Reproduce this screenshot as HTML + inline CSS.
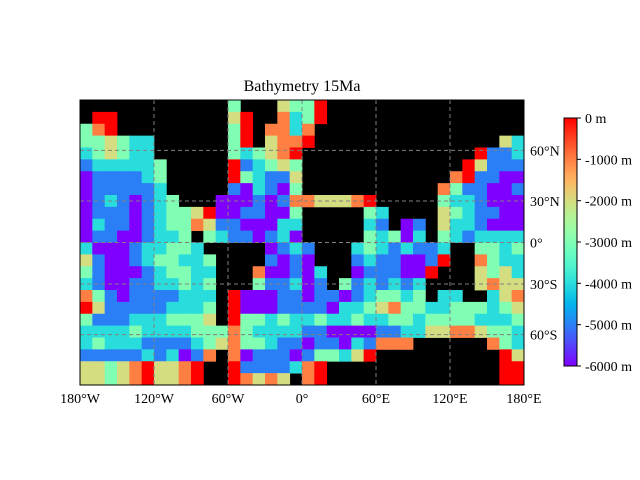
<!DOCTYPE html>
<html><head><meta charset="utf-8"><style>
body{margin:0;background:#fff;}
svg{display:block;font-family:"Liberation Serif",serif;}
</style></head><body>
<svg id="chart" width="640" height="480" viewBox="0 0 640 480" xmlns="http://www.w3.org/2000/svg">
<defs>
<linearGradient id="cbgrad" x1="0" y1="1" x2="0" y2="0"></linearGradient>
</defs>
<text x="302" y="91" font-size="16" text-anchor="middle">Bathymetry 15Ma</text>
<rect x="80" y="100" width="444" height="285" fill="#000"/>
<g id="cells"></g>
<g id="grid"></g>
<rect x="80" y="100" width="444" height="285" fill="none" stroke="#000" stroke-width="1"/>
<g id="xlabels"></g>
<g id="ylabels"></g>
<rect x="564" y="118" width="13" height="248" fill="url(#cbgrad)" stroke="#000" stroke-width="1"/>
<g id="cblabels"></g>
</svg>
<script>
// depth grid: each char = depth in km ('.' = land); columns 10° from 180°W
const depthRows = [
"............3...2330................",
".00.........20..1430................",
"310.........30.1141.................",
"332344......30.2110...............24",
"432344......343210..............0554",
"5444443.....054323.............02555",
"6555543.....034552............105566",
"6555554.....564563...........1355665",
"65456543...6665651122210.....3445666",
"655565433206655663.....34....2345566",
"645565433125566644.....45.65.2445666",
"655665443.34556546.....34364.3454444",
"4666544334.....6545...43454554..3343",
"25665433443....5656...54556650..1344",
"35666543344...166564..6555660...2324",
"45665544343...355465.3545454....2122",
"13565555444.0666556556543343.44..421",
"02555554443.066655556443213344333432",
"35554443332.033434434434433433334443",
"444434444333134444556666554422112334",
"434445555432133455655645111......134",
"55555454651.165556533420..........02",
"2232102210..05555410..............00",
"2232102210..01212.10..............00"
];
const lonTicks = [-180,-120,-60,0,60,120,180];
const lonLabels = ["180°W","120°W","60°W","0°","60°E","120°E","180°E"];
const latTicks = [60,30,0,-30,-60];
const latLabels = ["60°N","30°N","0°","30°S","60°S"];
const cbTicks = [0,-1000,-2000,-3000,-4000,-5000,-6000];
const cbLabels = ["0 m","-1000 m","-2000 m","-3000 m","-4000 m","-5000 m","-6000 m"];

const NS="http://www.w3.org/2000/svg";
const X0=80,X1=524,Y0=100,Y1=385,VMIN=-6000,VMAX=0;
const xScale = lon => X0 + (lon+180)/360*(X1-X0);
const yLat = lat => 242.5 - 77*1.25*Math.log(Math.tan(Math.PI/4+0.4*lat*Math.PI/180));
const cbY = v => 366 - (v-VMIN)/(VMAX-VMIN)*248;
function rainbow(v){
  const x=Math.max(0,Math.min(1,(v-VMIN)/(VMAX-VMIN)));
  const r=Math.min(1,Math.abs(2*x-0.5)), g=Math.sin(Math.PI*x), b=Math.cos(Math.PI*x/2);
  return `rgb(${Math.round(r*255)},${Math.round(g*255)},${Math.round(b*255)})`;
}
const svg=document.getElementById('chart');
const cells=document.getElementById('cells');
const nR=depthRows.length, nC=depthRows[0].length, rowH=(Y1-Y0)/nR;
for(let r=0;r<nR;r++){
  for(let c=0;c<nC;c++){
    const ch=depthRows[r][c]; if(ch==='.')continue;
    const v=-1000*parseInt(ch,10);
    const xa=xScale(-180+c*360/nC), xb=xScale(-180+(c+1)*360/nC);
    const el=document.createElementNS(NS,'rect');
    
    
    el.setAttribute('x',xa.toFixed(2));el.setAttribute('y',(Y0+r*rowH).toFixed(2));
    el.setAttribute('width',(xb-xa+0.4).toFixed(2));el.setAttribute('height',(rowH+0.4).toFixed(2));
    el.setAttribute('fill',rainbow(v));
    cells.appendChild(el);
  }
}
const grid=document.getElementById('grid');
function line(x1,y1,x2,y2,name){
  const l=document.createElementNS(NS,'line');
  
  
  l.setAttribute('x1',x1);l.setAttribute('y1',y1);l.setAttribute('x2',x2);l.setAttribute('y2',y2);
  l.setAttribute('stroke','#808080');l.setAttribute('stroke-width','1');l.setAttribute('stroke-dasharray','4,3');
  grid.appendChild(l);
}
lonTicks.slice(1,-1).forEach(l=>line(xScale(l),Y0,xScale(l),Y1,'meridian-line'));
latTicks.forEach(l=>line(X0,yLat(l),X1,yLat(l),'parallel-line'));
const xl=document.getElementById('xlabels');
lonTicks.forEach((l,i)=>{
  const t=document.createElementNS(NS,'text');
  
  
  t.setAttribute('x',xScale(l));t.setAttribute('y',403);t.setAttribute('font-size','14');t.setAttribute('text-anchor','middle');
  t.textContent=lonLabels[i];xl.appendChild(t);
});
const yl=document.getElementById('ylabels');
latTicks.forEach((l,i)=>{
  const t=document.createElementNS(NS,'text');
  
  
  t.setAttribute('x',530);t.setAttribute('y',yLat(l)+5);t.setAttribute('font-size','14');
  t.textContent=latLabels[i];yl.appendChild(t);
});
const grad=document.getElementById('cbgrad');
for(let i=0;i<=20;i++){
  const s=document.createElementNS(NS,'stop');
  s.setAttribute('offset',(i/20).toFixed(2));
  s.setAttribute('stop-color',rainbow(VMIN+(VMAX-VMIN)*i/20));
  grad.appendChild(s);
}
const cb=document.getElementById('cblabels');
cbTicks.forEach((v,i)=>{
  const y=cbY(v);
  const tk=document.createElementNS(NS,'line');
  
  
  tk.setAttribute('x1',577);tk.setAttribute('x2',581);tk.setAttribute('y1',y);tk.setAttribute('y2',y);tk.setAttribute('stroke','#000');
  cb.appendChild(tk);
  const t=document.createElementNS(NS,'text');
  
  
  t.setAttribute('x',585);t.setAttribute('y',y+5);t.setAttribute('font-size','14');
  t.textContent=cbLabels[i];cb.appendChild(t);
});
</script>
</body></html>
